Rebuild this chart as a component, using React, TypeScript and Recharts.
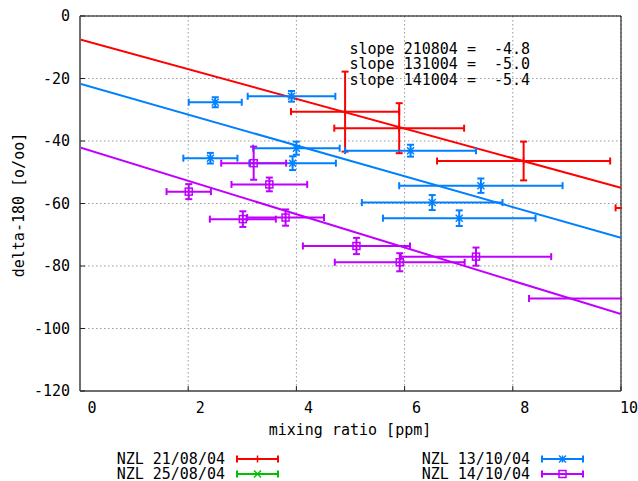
import React from 'react'
import {
  ComposedChart,
  Scatter,
  Line,
  ErrorBar,
  XAxis,
  YAxis,
  CartesianGrid,
  ReferenceLine,
  Label,
  Legend,
} from 'recharts'

const FONT = '"DejaVu Sans Mono", "Liberation Mono", monospace'

const xTicks = [0, 2, 4, 6, 8, 10]
const yTicks = [0, -20, -40, -60, -80, -100, -120]

// NZL 21/08/04
const redX = [4.9, 5.9, 8.2, 11.0]
const redY = [-30.6, -35.9, -46.4, -61.4]
const redXErr = [1.0, 1.2, 1.6, 1.1]
const redYErr = [12.8, 8.0, 6.2, 2.0]

// NZL 25/08/04 (no points in range)
const greenX: number[] = []
const greenY: number[] = []
const greenXErr: number[] = []
const greenYErr: number[] = []

// NZL 13/10/04
const blueX = [2.5, 3.91, 4.0, 2.41, 3.93, 6.11, 7.41, 6.51, 7.01]
const blueY = [-27.6, -25.7, -42.3, -45.5, -47.1, -43.1, -54.3, -59.7, -64.7]
const blueXErr = [0.49, 0.81, 0.8, 0.5, 0.8, 1.21, 1.51, 1.3, 1.41]
const blueYErr = [1.6, 1.7, 2.1, 1.7, 2.2, 1.9, 2.3, 2.4, 2.5]

// NZL 14/10/04
const purpleX = [2.01, 3.21, 3.5, 3.01, 3.8, 5.11, 5.91, 7.32, 10.3]
const purpleY = [-56.2, -47.1, -53.9, -65.0, -64.5, -73.6, -78.8, -77.0, -90.4]
const purpleXErr = [0.41, 0.6, 0.7, 0.61, 0.71, 0.99, 1.2, 1.39, 2.0]
const purpleYErr = [2.4, 5.3, 2.2, 2.5, 2.6, 2.6, 2.9, 2.9, 2.0]

// linear fits
const fitX = [0, 10]
const redFitY = [-7.5, -55.0]
const blueFitY = [-21.7, -71.0]
const purpleFitY = [-42.1, -95.4]

const slopeLabels = ['slope 210804 =  -4.8', 'slope 131004 =  -5.0', 'slope 141004 =  -5.4']

const RED = '#ff0000'
const GREEN = '#00c000'
const BLUE = '#0080ff'
const PURPLE = '#c000ff'

const toPoints = (xs: number[], ys: number[], xe: number[], ye: number[]) =>
  xs.map((x, i) => ({ x, y: ys[i], ex: xe[i], ey: ye[i] }))

const toFit = (ys: number[]) => fitX.map((x, i) => ({ x, y: ys[i] }))

const redData = toPoints(redX, redY, redXErr, redYErr)
const greenData = toPoints(greenX, greenY, greenXErr, greenYErr)
const blueData = toPoints(blueX, blueY, blueXErr, blueYErr)
const purpleData = toPoints(purpleX, purpleY, purpleXErr, purpleYErr)

type Kind = 'plus' | 'cross' | 'star' | 'square'

const Marker = ({ cx, cy, kind, color }: { cx: number; cy: number; kind: Kind; color: string }) => {
  const s = 3.5
  const plus = (
    <>
      <line x1={cx - s} y1={cy} x2={cx + s} y2={cy} />
      <line x1={cx} y1={cy - s} x2={cx} y2={cy + s} />
    </>
  )
  const cross = (
    <>
      <line x1={cx - s} y1={cy - s} x2={cx + s} y2={cy + s} />
      <line x1={cx - s} y1={cy + s} x2={cx + s} y2={cy - s} />
    </>
  )
  return (
    <g stroke={color} strokeWidth={1.5} fill="none">
      {kind === 'plus' && plus}
      {kind === 'cross' && cross}
      {kind === 'star' && (
        <>
          {plus}
          {cross}
        </>
      )}
      {kind === 'square' && <rect x={cx - s} y={cy - s} width={2 * s} height={2 * s} />}
    </g>
  )
}

const shapeFor = (kind: Kind, color: string) => (props: any) =>
  props.cx == null ? <g /> : <Marker cx={props.cx} cy={props.cy} kind={kind} color={color} />

const XTick = ({ x, payload }: any) => (
  <text
    x={Math.min(x + 12, 629)}
    y={408}
    textAnchor="middle"
    dominantBaseline="central"
    fontFamily={FONT}
    fontSize={15}
    fill="#000"
  >
    {payload.value}
  </text>
)

const YTick = ({ y, payload }: any) => (
  <text x={70} y={y} textAnchor="end" dominantBaseline="central" fontFamily={FONT} fontSize={15} fill="#000">
    {payload.value}
  </text>
)

const legendItems = [
  { name: 'NZL 21/08/04', color: RED, kind: 'plus' as Kind, col: 0, row: 0 },
  { name: 'NZL 25/08/04', color: GREEN, kind: 'cross' as Kind, col: 0, row: 1 },
  { name: 'NZL 13/10/04', color: BLUE, kind: 'star' as Kind, col: 1, row: 0 },
  { name: 'NZL 14/10/04', color: PURPLE, kind: 'square' as Kind, col: 1, row: 1 },
]

const LegendBox = () => (
  <svg width={638} height={31} style={{ display: 'block' }}>
    {legendItems.map((it) => {
      const textEnd = it.col === 0 ? 225 : 530
      const x0 = textEnd + 12
      const x1 = x0 + 41
      const cy = 9 + it.row * 15
      return (
        <g key={it.name}>
          <text x={textEnd} y={cy} textAnchor="end" dominantBaseline="central" fontFamily={FONT} fontSize={15} fill="#000">
            {it.name}
          </text>
          <g stroke={it.color} strokeWidth={2}>
            <line x1={x0} y1={cy} x2={x1} y2={cy} />
            <line x1={x0} y1={cy - 3.5} x2={x0} y2={cy + 3.5} />
            <line x1={x1} y1={cy - 3.5} x2={x1} y2={cy + 3.5} />
          </g>
          <Marker cx={(x0 + x1) / 2} cy={cy} kind={it.kind} color={it.color} />
        </g>
      )
    })}
  </svg>
)

const errProps = { width: 3.5, strokeWidth: 2, isAnimationActive: false }
const tickMark = { stroke: '#222', strokeWidth: 1 }

export default function App() {
  return (
    <div style={{ position: 'absolute', left: 0, top: 0, width: 638, height: 481, background: '#fff' }}>
      <ComposedChart width={638} height={481} margin={{ top: 16, right: 17, left: 0, bottom: 0 }}>
        <CartesianGrid stroke="#9a9a9a" strokeDasharray="1.5 2.5" strokeWidth={1} />
        <XAxis
          dataKey="x"
          type="number"
          domain={[0, 10]}
          ticks={xTicks}
          allowDataOverflow
          height={90}
          tickSize={-5}
          tickLine={tickMark}
          axisLine={{ stroke: '#6e6e6e', strokeWidth: 2 }}
          tick={<XTick />}
        >
          <Label
            content={() => (
              <text x={350} y={430} textAnchor="middle" dominantBaseline="central" fontFamily={FONT} fontSize={15} fill="#000">
                mixing ratio [ppm]
              </text>
            )}
          />
        </XAxis>
        <XAxis
          xAxisId="top"
          orientation="top"
          type="number"
          domain={[0, 10]}
          ticks={xTicks}
          allowDataOverflow
          height={0}
          tickSize={-5}
          tickLine={tickMark}
          tick={false}
          axisLine={{ stroke: '#000', strokeWidth: 1 }}
        />
        <YAxis
          dataKey="y"
          type="number"
          domain={[-120, 0]}
          ticks={yTicks}
          allowDataOverflow
          width={80}
          tickSize={-5}
          tickLine={tickMark}
          axisLine={{ stroke: '#6e6e6e', strokeWidth: 2 }}
          tick={<YTick />}
        >
          <Label
            content={() => (
              <text
                x={19}
                y={205}
                transform="rotate(-90 19 205)"
                textAnchor="middle"
                dominantBaseline="central"
                fontFamily={FONT}
                fontSize={15}
                fill="#000"
              >
                delta-180 [o/oo]
              </text>
            )}
          />
        </YAxis>
        <YAxis
          yAxisId="right"
          orientation="right"
          type="number"
          domain={[-120, 0]}
          ticks={yTicks}
          allowDataOverflow
          width={0}
          tickSize={-5}
          tickLine={tickMark}
          tick={false}
          axisLine={{ stroke: '#000', strokeWidth: 1 }}
        />
        <ReferenceLine y={0} stroke="#000" strokeWidth={1} />
        <ReferenceLine x={10} stroke="#000" strokeWidth={1} />

        <Scatter name="NZL 21/08/04" data={redData} shape={shapeFor('plus', RED)} isAnimationActive={false}>
          <ErrorBar dataKey="ex" direction="x" stroke={RED} {...errProps} />
          <ErrorBar dataKey="ey" direction="y" stroke={RED} {...errProps} />
        </Scatter>
        <Line data={toFit(redFitY)} dataKey="y" stroke={RED} strokeWidth={2} dot={false} isAnimationActive={false} />

        <Scatter name="NZL 25/08/04" data={greenData} shape={shapeFor('cross', GREEN)} isAnimationActive={false}>
          <ErrorBar dataKey="ex" direction="x" stroke={GREEN} {...errProps} />
          <ErrorBar dataKey="ey" direction="y" stroke={GREEN} {...errProps} />
        </Scatter>

        <Scatter name="NZL 13/10/04" data={blueData} shape={shapeFor('star', BLUE)} isAnimationActive={false}>
          <ErrorBar dataKey="ex" direction="x" stroke={BLUE} {...errProps} />
          <ErrorBar dataKey="ey" direction="y" stroke={BLUE} {...errProps} />
        </Scatter>
        <Line data={toFit(blueFitY)} dataKey="y" stroke={BLUE} strokeWidth={2} dot={false} isAnimationActive={false} />

        <Scatter name="NZL 14/10/04" data={purpleData} shape={shapeFor('square', PURPLE)} isAnimationActive={false}>
          <ErrorBar dataKey="ex" direction="x" stroke={PURPLE} {...errProps} />
          <ErrorBar dataKey="ey" direction="y" stroke={PURPLE} {...errProps} />
        </Scatter>
        <Line data={toFit(purpleFitY)} dataKey="y" stroke={PURPLE} strokeWidth={2} dot={false} isAnimationActive={false} />

        <Legend
          layout="horizontal"
          verticalAlign="middle"
          align="center"
          content={() => <LegendBox />}
          wrapperStyle={{ position: 'absolute', left: 0, top: 450, width: 638, height: 31 }}
        />
      </ComposedChart>
      <svg width={638} height={481} style={{ position: 'absolute', left: 0, top: 0, pointerEvents: 'none' }}>
        {/* hide the parts of out-of-range error bars that spill past the right border */}
        <rect x={622} y={0} width={16} height={392} fill="#fff" />
        {slopeLabels.map((s, i) => (
          <text
            key={s}
            x={349.5}
            y={48.7 + i * 15.6}
            dominantBaseline="central"
            fontFamily={FONT}
            fontSize={15}
            fill="#000"
            style={{ whiteSpace: 'pre' }}
            xmlSpace="preserve"
          >
            {s}
          </text>
        ))}
      </svg>
    </div>
  )
}
